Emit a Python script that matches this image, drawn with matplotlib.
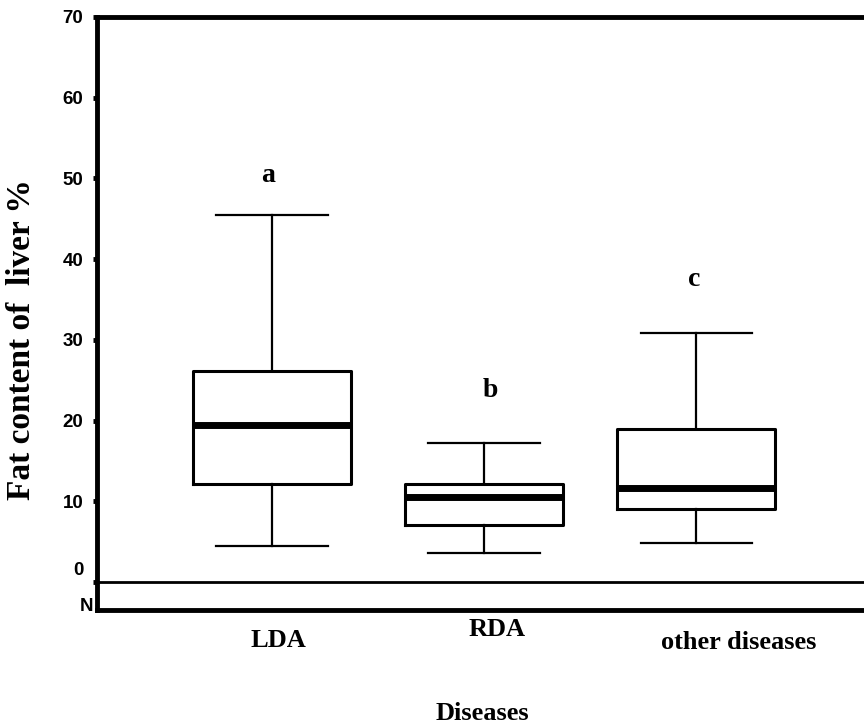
import matplotlib
matplotlib.use('Agg')
from matplotlib import pyplot as plt
from matplotlib import transforms

''' --------------------------- 数据 ----------------------------------'''
groups = ['LDA', 'RDA', 'other diseases']
whisker_low = [4.5, 3.6, 4.8]
q1 = [12.2, 7.1, 9.0]
median = [19.5, 10.5, 11.7]
q3 = [26.2, 12.2, 18.9]
whisker_high = [45.5, 17.2, 30.9]
letters = ['a', 'b', 'c']
letter_y = [49.6, 22.9, 36.7]
yticks = [0, 10, 20, 30, 40, 50, 60, 70]

serif = ['Liberation Serif', 'DejaVu Serif']
sans = ['Liberation Sans', 'DejaVu Sans']

''' --------------------------- 绘图 ----------------------------------'''
fig = plt.figure(figsize=(8.64, 7.26), dpi=100)
ax = fig.add_axes([0.1119, 0.1598, 0.9397, 0.8168])

stats = []
for i in range(len(groups)):
    stats.append({'label': groups[i], 'whislo': whisker_low[i], 'q1': q1[i],
                  'med': median[i], 'q3': q3[i], 'whishi': whisker_high[i],
                  'fliers': []})

pos = [1, 2, 3]
ax.bxp(stats, positions=pos, widths=0.745, capwidths=0.526, showfliers=False,
       boxprops=dict(color='black', linewidth=2.2),
       medianprops=dict(color='black', linewidth=5),
       whiskerprops=dict(color='black', linewidth=1.6),
       capprops=dict(color='black', linewidth=1.6))

ax.axhline(0, color='black', linewidth=2)

ax.set_xlim(0.174, 4.0)
ax.set_ylim(-3.47, 70)
ax.set_yticks(yticks)
ax.set_yticklabels([str(t) for t in yticks], fontsize=13.5, fontweight='bold', family=sans)
ax.set_xticks(pos)
ax.set_xticklabels(['', '', ''])
ax.tick_params(axis='x', length=0)
ax.tick_params(axis='y', length=3, width=3.5, pad=6.5, direction='out')

# the "0" label sits a little above its tick in the original
zero_lab = ax.get_yticklabels()[0]
zero_lab.set_transform(zero_lab.get_transform() +
                       transforms.ScaledTranslation(0, 13 / 100, fig.dpi_scale_trans))

for s in ['left', 'bottom', 'top', 'right']:
    ax.spines[s].set_linewidth(3.5)

# letters above the boxes
letter_x = [0.98, 2.03, 2.99]
for i in range(len(letters)):
    ax.text(letter_x[i], letter_y[i], letters[i], ha='center', va='baseline',
            fontsize=20, fontweight='bold', family=serif)

# category labels below the axis
lab_x = [1.03, 2.06, 3.2]
lab_off = [-31, -20, -33]
for i in range(len(groups)):
    ax.annotate(groups[i], xy=(lab_x[i], 0), xycoords=('data', 'axes fraction'),
                xytext=(0, lab_off[i] * 0.72), textcoords='offset points',
                ha='center', va='center', fontsize=19, fontweight='bold', family=serif)

ax.text(-0.004, -3.0, 'N', transform=transforms.blended_transform_factory(ax.transAxes, ax.transData),
        ha='right', va='center', fontsize=13.5, fontweight='bold', family=sans)

fig.text(482.5 / 864, 6 / 726, 'Diseases', ha='center', va='baseline',
         fontsize=19, fontweight='bold', family=serif)
fig.text(22 / 864, (726 - 340) / 726, 'Fat content of  liver %', rotation=90,
         ha='center', va='center', fontsize=24, fontweight='bold', family=serif)

plt.savefig('out.png', dpi=100)
